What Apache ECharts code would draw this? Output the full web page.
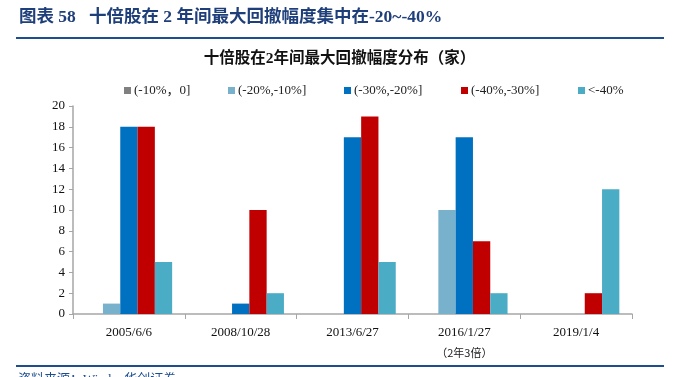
<!DOCTYPE html>
<html><head><meta charset="utf-8">
<script src="https://cdn.jsdelivr.net/npm/echarts@6/dist/echarts.min.js"></script>
<style>html,body{margin:0;padding:0;background:#fff}#c{width:679px;height:377px}</style>
</head><body><div id="c"></div>
<script>
const categories = ['2005/6/6','2008/10/28','2013/6/27','2016/1/27','2019/1/4'];
const categoryNotes = ['','','','（2年3倍）',''];
const seriesNames = ['(-10%，0]','(-20%,-10%]','(-30%,-20%]','(-40%,-30%]','<-40%'];
const s0 = [0,0,0,0,0];
const s1 = [1,0,0,10,0];
const s2 = [18,1,17,17,0];
const s3 = [18,10,19,7,2];
const s4 = [5,2,5,2,12];
const yTicks = [0,2,4,6,8,10,12,14,16,18,20];

const colors = ['#808080','#77b1cc','#0070c0','#c00000','#4bacc6'];
const allData = [s0,s1,s2,s3,s4];
const legendLeft = [124,228,344,461,578];
const serif = '"Liberation Serif","Times New Roman",serif';
const mixed = '"Liberation Serif","Noto Sans CJK SC",serif';
const cjk = '"Noto Sans CJK SC",sans-serif';

const chart = echarts.init(document.getElementById('c'));
chart.setOption({
  animation:false,
  color: colors,
  legend: seriesNames.map((n,i)=>({
    data:[n], left:legendLeft[i], top:84, itemWidth:7, itemHeight:7, icon:'rect',
    textStyle:{fontFamily:mixed, fontSize:13, color:'#222', padding:[0,0,0,-2]}, padding:0
  })),
  grid:{left:73, right:47, top:106, bottom:63, containLabel:false},
  xAxis:{
    type:'category', data:categories,
    axisLine:{lineStyle:{color:'#a6a6a6', width:1.5}},
    axisTick:{show:true, length:5, lineStyle:{color:'#a6a6a6'}},
    axisLabel:{
      interval:0, margin:9, color:'#111', fontFamily:serif, fontSize:13, lineHeight:20,
      formatter:(v,i)=> categoryNotes[i] ? v + '\n{n|' + categoryNotes[i] + '}' : v,
      rich:{n:{fontFamily:cjk, fontSize:11, color:'#222', lineHeight:20}}
    }
  },
  yAxis:{
    type:'value', min:yTicks[0], max:yTicks[yTicks.length-1], interval:2,
    axisLine:{show:true, lineStyle:{color:'#a6a6a6', width:1.5}},
    axisTick:{show:true, length:4, lineStyle:{color:'#a6a6a6'}},
    splitLine:{show:false},
    axisLabel:{color:'#111', fontFamily:serif, fontSize:13, margin:8}
  },
  series: seriesNames.map((n,i)=>({
    name:n, type:'bar', data:allData[i], barWidth:17.3, barGap:'0%',
    itemStyle:{color:colors[i]}
  })),
  graphic:[
    {type:'text', left:19, top:9, style:{text:'图表 58   十倍股在 2 年间最大回撤幅度集中在-20~-40%', fontFamily:mixed, fontWeight:'bold', fontSize:17.5, fill:'#1f3f7a'}},
    {type:'rect', shape:{x:16, y:37, width:648, height:2}, style:{fill:'#1f4e8c'}},
    {type:'text', left:'center', top:51, style:{text:'十倍股在2年间最大回撤幅度分布（家）', fontFamily:mixed, fontWeight:'bold', fontSize:15.5, fill:'#111'}},
    {type:'rect', shape:{x:16, y:365, width:648, height:2}, style:{fill:'#1f4e8c'}},
    {type:'text', left:18, top:373, style:{text:'资料来源：Wind，华创证券', fontFamily:mixed, fontSize:13, fill:'#1f4e8c'}}
  ]
});
</script></body></html>
